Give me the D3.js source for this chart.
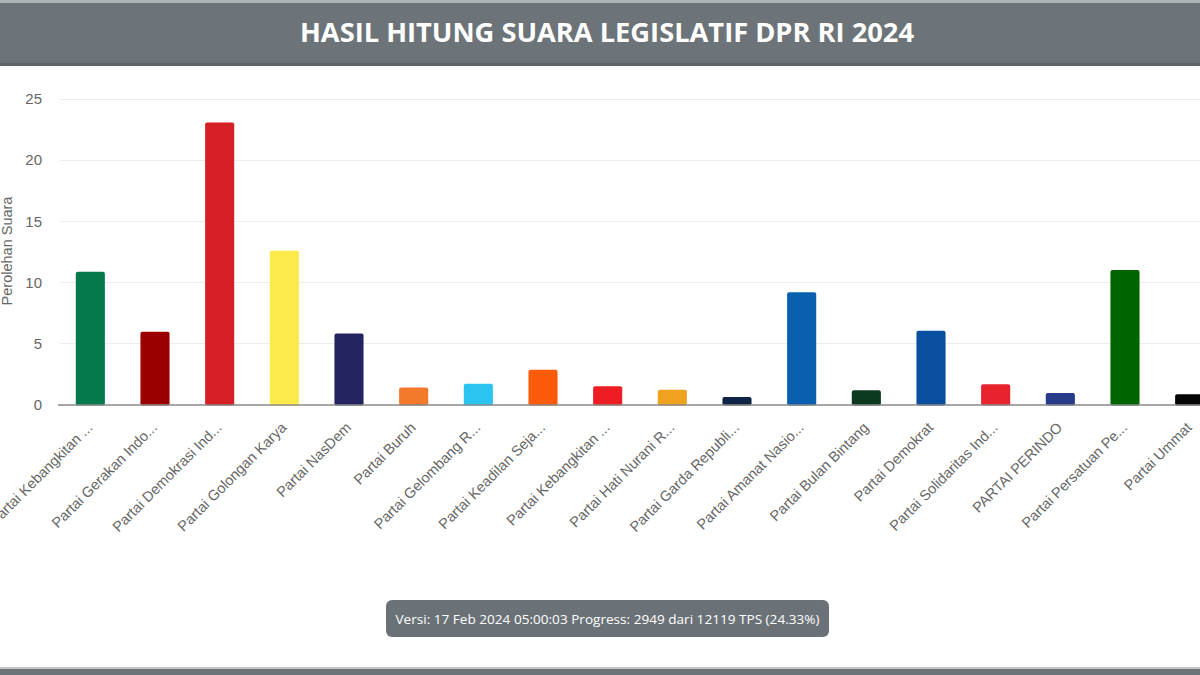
<!DOCTYPE html>
<html>
<head>
<meta charset="utf-8">
<script src="https://cdn.jsdelivr.net/npm/d3@7"></script>
<style>
  html, body { margin: 0; padding: 0; background: #fff; }
  svg { display: block; }
</style>
</head>
<body>
<svg id="chart" width="1200" height="675"></svg>
<script>

// Data.
var parties = [
  'Partai Kebangkitan ...', 'Partai Gerakan Indo...', 'Partai Demokrasi Ind...',
  'Partai Golongan Karya', 'Partai NasDem', 'Partai Buruh',
  'Partai Gelombang R...', 'Partai Keadilan Seja...', 'Partai Kebangkitan ...',
  'Partai Hati Nurani R...', 'Partai Garda Republi...', 'Partai Amanat Nasio...',
  'Partai Bulan Bintang', 'Partai Demokrat', 'Partai Solidaritas Ind...',
  'PARTAI PERINDO', 'Partai Persatuan Pe...', 'Partai Ummat'
];
var votes = [10.87, 5.95, 23.08, 12.59, 5.82, 1.4, 1.7, 2.85, 1.5, 1.2, 0.62, 9.18, 1.17, 6.03, 1.66, 0.95, 11.0, 0.84];
var colors = [
  '#05794b', '#9a0000', '#d71f27', '#fbea4a', '#23235f', '#f5792a',
  '#2bc3f0', '#fb5b0a', '#ee1d23', '#f0a11e', '#0f2444', '#0a5fae',
  '#0d3a1e', '#0a4e9f', '#e8232d', '#283a8a', '#006400', '#050505'
];
var yTicks = [0, 5, 10, 15, 20, 25];
var title = 'HASIL HITUNG SUARA LEGISLATIF DPR RI 2024';
var footnote = 'Versi: 17 Feb 2024 05:00:03 Progress: 2949 dari 12119 TPS (24.33%)';

var svg = d3.select('#chart');
var W = 1200, H = 675;
var labelFont = '"Liberation Sans", Arial, sans-serif';

// Header bar.
svg.append('rect').attr('x', 0).attr('y', 0).attr('width', W).attr('height', 66).attr('fill', '#6d7479');
svg.append('rect').attr('x', 0).attr('y', 0).attr('width', W).attr('height', 3).attr('fill', '#aeb3b6');
svg.append('rect').attr('x', 0).attr('y', 63).attr('width', W).attr('height', 3).attr('fill', '#5e6468');
svg.append('text')
  .attr('x', 607).attr('y', 42)
  .attr('text-anchor', 'middle')
  .attr('fill', '#fff')
  .attr('textLength', 614)
  .attr('lengthAdjust', 'spacingAndGlyphs')
  .style('font-family', '"Open Sans", sans-serif')
  .style('font-weight', 700)
  .style('font-size', '27px')
  .text(title);

// Scales (index domain, since two labels are identical).
var idx = d3.range(parties.length);
var x = d3.scaleBand().domain(idx).range([58, 1222]).paddingInner(0.55).paddingOuter(0.275);
var y = d3.scaleLinear().domain([0, 25]).range([404.5, 99]);

// Gridlines.
svg.append('g').selectAll('line').data(yTicks.slice(1)).join('line')
  .attr('x1', 60).attr('x2', W)
  .attr('y1', function(d) { return Math.round(y(d)) + 0.5; })
  .attr('y2', function(d) { return Math.round(y(d)) + 0.5; })
  .attr('stroke', '#ececec').attr('stroke-width', 1);

// Y axis labels.
var yAxis = d3.axisLeft(y).tickValues(yTicks).tickSize(0).tickPadding(0);
var gy = svg.append('g').attr('transform', 'translate(42,0)').call(yAxis);
gy.select('.domain').remove();
gy.selectAll('text')
  .attr('fill', '#666')
  .style('font-family', labelFont)
  .style('font-size', '15px');

// Y axis title.
svg.append('text')
  .attr('transform', 'translate(12,251) rotate(-90)')
  .attr('text-anchor', 'middle')
  .attr('fill', '#666')
  .style('font-family', labelFont)
  .style('font-size', '14.5px')
  .text('Perolehan Suara');

// Bars.
svg.append('g').selectAll('rect').data(idx).join('rect')
  .attr('x', function(i) { return x(i); })
  .attr('width', x.bandwidth())
  .attr('y', function(i) { return y(votes[i]); })
  .attr('height', function(i) { return y(0) - y(votes[i]) + 1; })
  .attr('rx', 2)
  .attr('fill', function(i) { return colors[i]; });

// X axis.
var xAxis = d3.axisBottom(x).tickSize(0).tickPadding(0).tickFormat(function(i) { return parties[i]; });
var gx = svg.append('g').attr('transform', 'translate(0,' + y(0) + ')').call(xAxis);
gx.select('.domain').remove();
svg.append('line')
  .attr('x1', 58).attr('x2', W)
  .attr('y1', y(0) + 0.5).attr('y2', y(0) + 0.5)
  .attr('stroke', '#8a8a8a').attr('stroke-width', 1.5);
gx.selectAll('text')
  .attr('text-anchor', 'end')
  .attr('dy', 0).attr('y', 0)
  .attr('transform', 'translate(3,24) rotate(-45)')
  .attr('fill', '#666')
  .style('font-family', labelFont)
  .style('font-size', '14.5px');

// Footnote badge.
var note = svg.append('g');
note.append('rect')
  .attr('x', 386).attr('y', 600).attr('width', 443).attr('height', 37)
  .attr('rx', 6).attr('fill', '#6b7277');
note.append('text')
  .attr('x', 607.5).attr('y', 624)
  .attr('text-anchor', 'middle')
  .attr('fill', '#fff')
  .attr('textLength', 424)
  .attr('lengthAdjust', 'spacingAndGlyphs')
  .style('font-family', '"Open Sans", sans-serif')
  .style('font-size', '13.5px')
  .text(footnote);

// Bottom bar.
svg.append('rect').attr('x', 0).attr('y', 667).attr('width', W).attr('height', 2).attr('fill', '#c3c6c8');
svg.append('rect').attr('x', 0).attr('y', 669).attr('width', W).attr('height', 6).attr('fill', '#6d7479');

</script>
</body>
</html>
